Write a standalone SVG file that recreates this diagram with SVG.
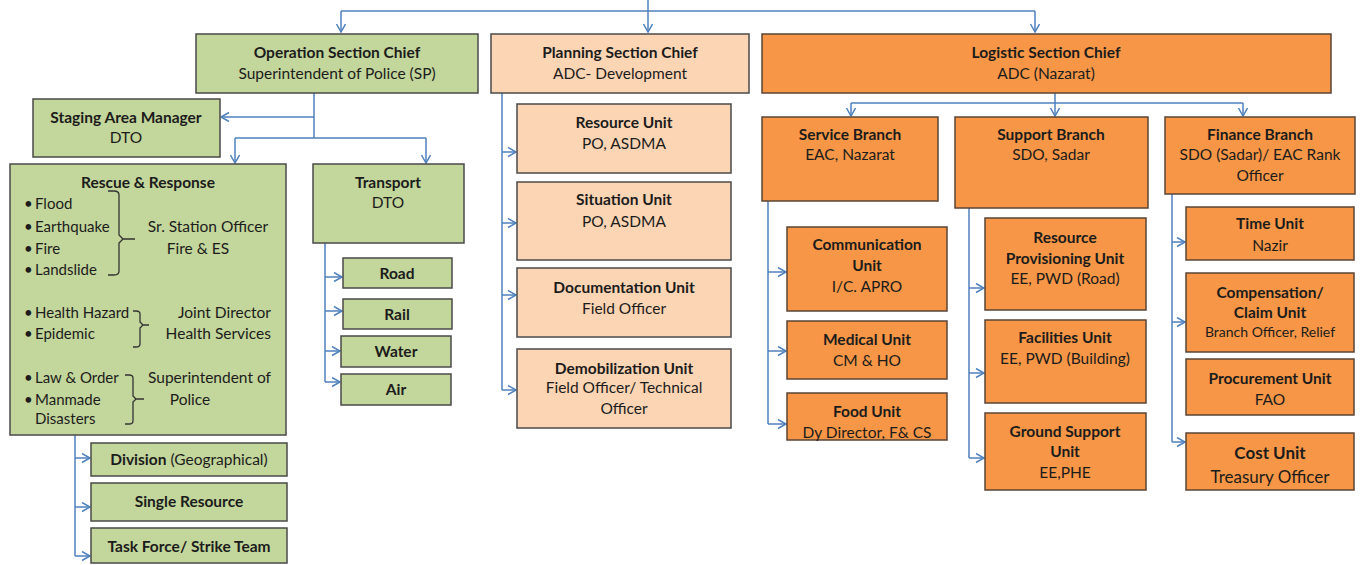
<svg xmlns="http://www.w3.org/2000/svg" width="1367" height="565" viewBox="0 0 1367 565">
<style>
text{font-family:Lato,"Liberation Sans",sans-serif;font-size:15.5px;fill:#1c1c1c;text-anchor:middle}
.b{font-weight:bold}
.l{text-anchor:start;font-size:15px}
.r{text-anchor:end}
.g{fill:#c3d69b;stroke:#4a4a4a;stroke-width:1.5}
.p{fill:#fcd5b4;stroke:#4a4a4a;stroke-width:1.5}
.o{fill:#f79646;stroke:#5a4535;stroke-width:1.5}
.c{fill:none;stroke:#4f81bd;stroke-width:1.5}
.a{marker-end:url(#ah)}
.br{fill:none;stroke:#333;stroke-width:1.3}
</style>
<defs>
<marker id="ah" markerUnits="userSpaceOnUse" markerWidth="12" markerHeight="12" refX="9" refY="5" orient="auto">
<path d="M1,0.5 L9,5 L1,9.5" fill="none" stroke="#4f81bd" stroke-width="1.5"/>
</marker>
</defs>
<rect width="1367" height="565" fill="#fff"/>
<g id="connectors">
<path class="c" d="M341,11 H1035"/>
<path class="c a" d="M648,0 V32"/>
<path class="c a" d="M341,11 V32"/>
<path class="c a" d="M1035,11 V32"/>
<path class="c" d="M314,93 V138 M235,138 H426"/>
<path class="c a" d="M314,117 H221"/>
<path class="c a" d="M235,138 V163"/>
<path class="c a" d="M426,138 V163"/>
<path class="c" d="M325,243 V382"/>
<path class="c a" d="M325,277 H342"/>
<path class="c a" d="M325,311 H342"/>
<path class="c a" d="M325,351 H340"/>
<path class="c a" d="M325,382 H340"/>
<path class="c" d="M75,435 V556"/>
<path class="c a" d="M75,458 H90"/>
<path class="c a" d="M75,507 H90"/>
<path class="c a" d="M75,556 H90"/>
<path class="c" d="M502,93 V390"/>
<path class="c a" d="M502,152 H516"/>
<path class="c a" d="M502,223 H516"/>
<path class="c a" d="M502,295 H516"/>
<path class="c a" d="M502,390 H516"/>
<path class="c" d="M1055,93 V103 M851,103 H1243"/>
<path class="c a" d="M851,103 V116"/>
<path class="c a" d="M1055,103 V116"/>
<path class="c a" d="M1243,103 V116"/>
<path class="c" d="M768,201 V424"/>
<path class="c a" d="M768,272 H786"/>
<path class="c a" d="M768,351 H786"/>
<path class="c a" d="M768,424 H786"/>
<path class="c" d="M969,208 V458"/>
<path class="c a" d="M969,288 H984"/>
<path class="c a" d="M969,373 H984"/>
<path class="c a" d="M969,458 H984"/>
<path class="c" d="M1172,194 V442"/>
<path class="c a" d="M1172,242 H1185"/>
<path class="c a" d="M1172,322 H1185"/>
<path class="c a" d="M1172,442 H1185"/>
</g>
<g id="operation">
<rect class="g" x="196" y="34" width="282" height="59"/>
<text class="b" x="337" y="58">Operation Section Chief</text>
<text x="337" y="79">Superintendent of Police (SP)</text>
</g>
<g id="planning">
<rect class="p" x="491" y="34" width="258" height="59"/>
<text class="b" x="620" y="58">Planning Section Chief</text>
<text x="620" y="79">ADC- Development</text>
</g>
<g id="logistic">
<rect class="o" x="762" y="34" width="569" height="59"/>
<text class="b" x="1046" y="58">Logistic Section Chief</text>
<text x="1046" y="79">ADC (Nazarat)</text>
</g>
<g id="staging">
<rect class="g" x="33" y="99" width="187" height="58"/>
<text class="b" x="126" y="123">Staging Area Manager</text>
<text x="126" y="143">DTO</text>
</g>
<g id="rescue">
<rect class="g" x="10" y="164" width="276" height="271"/>
<text class="b" x="148" y="188">Rescue &amp; Response</text>
<text class="l" x="24" y="209">•</text><text class="l" x="35" y="209">Flood</text>
<text class="l" x="24" y="232">•</text><text class="l" x="35" y="232">Earthquake</text>
<text class="l" x="24" y="254">•</text><text class="l" x="35" y="254">Fire</text>
<text class="l" x="24" y="275">•</text><text class="l" x="35" y="275">Landslide</text>
<path class="br" d="M108,191 H114 Q119,191 119,195 V235 L123,239 H135 M123,239 L119,243 V271 Q119,275 114,275 H108"/>
<text x="208" y="232">Sr. Station Officer</text>
<text x="198" y="254">Fire &amp; ES</text>
<text class="l" x="24" y="318">•</text><text class="l" x="35" y="318">Health Hazard</text>
<text class="l" x="24" y="339">•</text><text class="l" x="35" y="339">Epidemic</text>
<path class="br" d="M133,311 H136 Q140,311 140,314 V322 L143,325 H149 M143,325 L140,328 V344 Q140,347 136,347 H133"/>
<text class="r" x="271" y="318">Joint Director</text>
<text class="r" x="271" y="339">Health Services</text>
<text class="l" x="24" y="383">•</text><text class="l" x="35" y="383">Law &amp; Order</text>
<text class="l" x="24" y="405">•</text><text class="l" x="35" y="405">Manmade</text>
<text class="l" x="35" y="424">Disasters</text>
<path class="br" d="M125,375 H129 Q133,375 133,378 V396 L136,399 H144 M136,399 L133,402 V421 Q133,424 129,424 H125"/>
<text class="r" x="271" y="383">Superintendent of</text>
<text x="190" y="405">Police</text>
</g>
<g id="transport">
<rect class="g" x="313" y="164" width="151" height="79"/>
<text class="b" x="388" y="188">Transport</text>
<text x="388" y="208">DTO</text>
</g>
<g id="road"><rect class="g" x="343" y="258" width="109" height="30"/><text class="b" x="397" y="279">Road</text></g>
<g id="rail"><rect class="g" x="343" y="299" width="109" height="30"/><text class="b" x="397" y="320">Rail</text></g>
<g id="water"><rect class="g" x="341" y="336" width="110" height="31"/><text class="b" x="396" y="357">Water</text></g>
<g id="air"><rect class="g" x="341" y="374" width="110" height="31"/><text class="b" x="396" y="395">Air</text></g>
<g id="division"><rect class="g" x="91" y="443" width="196" height="33"/><text x="189" y="465"><tspan class="b">Division</tspan> (Geographical)</text></g>
<g id="single"><rect class="g" x="91" y="483" width="196" height="38"/><text class="b" x="189" y="507">Single Resource</text></g>
<g id="taskforce"><rect class="g" x="91" y="528" width="196" height="35"/><text class="b" x="189" y="552">Task Force/ Strike Team</text></g>
<g id="resource-unit"><rect class="p" x="517" y="104" width="214" height="69"/><text class="b" x="624" y="128">Resource Unit</text><text x="624" y="149">PO, ASDMA</text></g>
<g id="situation-unit"><rect class="p" x="517" y="182" width="214" height="78"/><text class="b" x="624" y="205">Situation Unit</text><text x="624" y="227">PO, ASDMA</text></g>
<g id="documentation-unit"><rect class="p" x="517" y="268" width="214" height="69"/><text class="b" x="624" y="293">Documentation Unit</text><text x="624" y="314">Field Officer</text></g>
<g id="demobilization-unit"><rect class="p" x="517" y="349" width="214" height="79"/><text class="b" x="624" y="374">Demobilization Unit</text><text x="624" y="393">Field Officer/ Technical</text><text x="624" y="414">Officer</text></g>
<g id="service-branch"><rect class="o" x="762" y="117" width="176" height="84"/><text class="b" x="850" y="140">Service Branch</text><text x="850" y="160">EAC, Nazarat</text></g>
<g id="support-branch"><rect class="o" x="955" y="117" width="193" height="91"/><text class="b" x="1051" y="140">Support Branch</text><text x="1051" y="160">SDO, Sadar</text></g>
<g id="finance-branch"><rect class="o" x="1165" y="117" width="190" height="77"/><text class="b" x="1260" y="140">Finance Branch</text><text x="1260" y="160">SDO (Sadar)/ EAC Rank</text><text x="1260" y="181">Officer</text></g>
<g id="communication-unit"><rect class="o" x="787" y="227" width="160" height="84"/><text class="b" x="867" y="250">Communication</text><text class="b" x="867" y="271">Unit</text><text x="867" y="292">I/C. APRO</text></g>
<g id="medical-unit"><rect class="o" x="787" y="321" width="160" height="58"/><text class="b" x="867" y="345">Medical Unit</text><text x="867" y="366">CM &amp; HO</text></g>
<g id="food-unit"><rect class="o" x="787" y="393" width="160" height="47"/><text class="b" x="867" y="417">Food Unit</text><text x="867" y="438">Dy Director, F&amp; CS</text></g>
<g id="resource-provisioning-unit"><rect class="o" x="985" y="218" width="161" height="92"/><text class="b" x="1065" y="243">Resource</text><text class="b" x="1065" y="264">Provisioning Unit</text><text x="1065" y="284">EE, PWD (Road)</text></g>
<g id="facilities-unit"><rect class="o" x="985" y="320" width="161" height="83"/><text class="b" x="1065" y="343">Facilities Unit</text><text x="1065" y="364">EE, PWD (Building)</text></g>
<g id="ground-support-unit"><rect class="o" x="985" y="413" width="161" height="77"/><text class="b" x="1065" y="437">Ground Support</text><text class="b" x="1065" y="457">Unit</text><text x="1065" y="478">EE,PHE</text></g>
<g id="time-unit"><rect class="o" x="1186" y="207" width="168" height="53"/><text class="b" x="1270" y="229">Time Unit</text><text x="1270" y="251">Nazir</text></g>
<g id="compensation-unit"><rect class="o" x="1186" y="273" width="168" height="79"/><text class="b" x="1270" y="298">Compensation/</text><text class="b" x="1270" y="318">Claim Unit</text><text x="1270" y="337" style="font-size:14px">Branch Officer, Relief</text></g>
<g id="procurement-unit"><rect class="o" x="1186" y="359" width="168" height="56"/><text class="b" x="1270" y="384">Procurement Unit</text><text x="1270" y="405">FAO</text></g>
<g id="cost-unit"><rect class="o" x="1186" y="433" width="168" height="57"/><text class="b" x="1270" y="459" style="font-size:17px">Cost Unit</text><text x="1270" y="483" style="font-size:17px">Treasury Officer</text></g>
</svg>
